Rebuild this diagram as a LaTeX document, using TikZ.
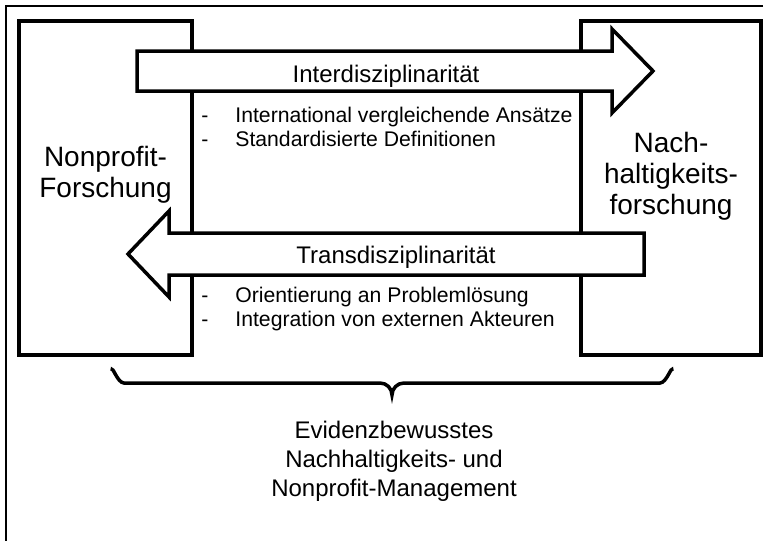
\documentclass[tikz,border=0pt]{standalone}
\usepackage{fontspec}
\setmainfont{Liberation Sans}

\begin{document}
\begin{tikzpicture}[
    x=0.5pt, y=-0.5pt,
    box/.style={draw, rectangle, line width=1.75pt, inner sep=0pt},
    blockarrow/.style={draw, fill=white, line width=1.75pt, line join=miter},
    bigtext/.style={font=\fontsize{14}{15.5}\selectfont, align=center},
    arrowlabel/.style={font=\fontsize{12}{14}\selectfont, anchor=base},
    bullet/.style={font=\fontsize{10.6}{12}\selectfont, anchor=base west, inner sep=0pt},
    result/.style={font=\fontsize{12}{14.5}\selectfont, align=center}
]
    \useasboundingbox (0,0) rectangle (769,541);
    \draw[line width=1pt] (763,6) -- (6,6) -- (6,541);

    % the two research fields
    \node[box, minimum width=86.5pt, minimum height=167pt] (nonprofit) at (105.5,188) {};
    \node[box, minimum width=90pt, minimum height=167pt] (nachhaltig) at (671,188) {};
    \node[bigtext] (nonprofittext) at (105.5,175) {Nonprofit-\\Forschung};
    \node[bigtext] (nachhaltigtext) at (671,176) {Nach-\\haltigkeits-\\forschung};

    % block arrows between them
    \draw[blockarrow] (137,51) -- (612,51) -- (612,29) -- (653,71) -- (612,113) -- (612,91) -- (137,91) -- cycle;
    \draw[blockarrow] (644,233) -- (169,233) -- (169,211) -- (128,254) -- (169,297) -- (169,275) -- (644,275) -- cycle;
    \node[arrowlabel] (inter) at (386,82) {Interdisziplinarität};
    \node[arrowlabel] (trans) at (396,263) {Transdisziplinarität};

    \node[bullet] (inter1) at (201,122) {\makebox[17pt][l]{-}International vergleichende Ansätze};
    \node[bullet] (inter2) at (201,146) {\makebox[17pt][l]{-}Standardisierte Definitionen};
    \node[bullet] (trans1) at (201,302) {\makebox[17pt][l]{-}Orientierung an Problemlösung};
    \node[bullet] (trans2) at (201,326) {\makebox[17pt][l]{-}Integration von externen Akteuren};

    % brace and outcome
    \draw[line width=1.75pt] (112,371) to[out=90,in=180] (124,383) -- (380,383)
        to[out=0,in=90] (392,395) to[out=90,in=180] (404,383) -- (660,383) to[out=0,in=90] (672,371);
    \node[result] (outcome) at (394,461) {Evidenzbewusstes\\Nachhaltigkeits- und\\Nonprofit-Management};
\end{tikzpicture}
\end{document}
